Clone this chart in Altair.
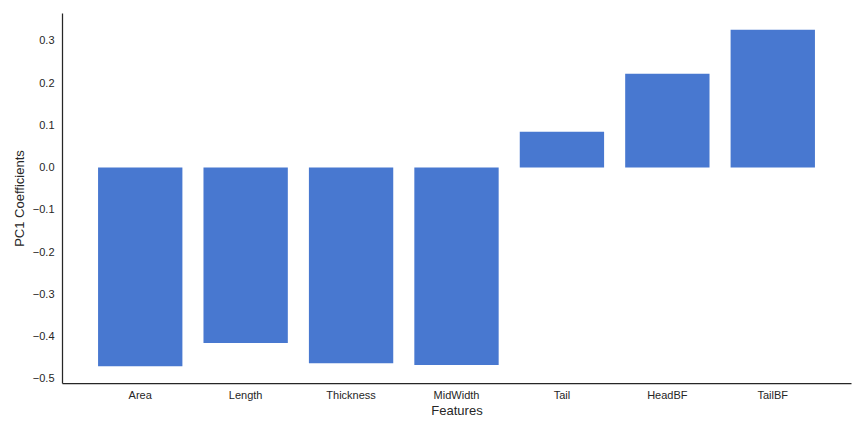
import altair as alt
import pandas as pd

features = ["Area", "Length", "Thickness", "MidWidth", "Tail", "HeadBF", "TailBF"]
coefficients = [-0.470, -0.415, -0.463, -0.467, 0.085, 0.222, 0.326]
y_ticks = [-0.5, -0.4, -0.3, -0.2, -0.1, 0.0, 0.1, 0.2, 0.3]

df = pd.DataFrame({"Features": features, "PC1": coefficients})

font = "Liberation Sans"
dark = "#262626"

chart = (
    alt.Chart(df)
    .mark_bar(color="#4878d0")
    .encode(
        x=alt.X(
            "Features:N",
            sort=features,
            scale=alt.Scale(paddingInner=0.2, paddingOuter=0.342),
            axis=alt.Axis(
                title="Features",
                labelAngle=0,
                ticks=False,
                labelPadding=6,
                titlePadding=4,
            ),
        ),
        y=alt.Y(
            "PC1:Q",
            scale=alt.Scale(domain=[-0.5098, 0.3658], nice=False, zero=False),
            axis=alt.Axis(
                title="PC1 Coefficients",
                values=y_ticks,
                format=".1f",
                ticks=False,
                labelPadding=8,
                titlePadding=6,
            ),
        ),
    )
    .properties(
        width=789,
        height=370,
        autosize=alt.AutoSizeParams(type="none"),
        padding={"left": 54, "top": 5, "right": 5, "bottom": 45},
    )
    .configure_view(stroke=None)
    .configure_axis(
        grid=False,
        domainColor=dark,
        domainWidth=1.25,
        labelColor=dark,
        titleColor=dark,
        labelFont=font,
        titleFont=font,
        labelFontSize=11,
        titleFontSize=13,
        titleFontWeight="normal",
    )
)

chart.save("out.html", embed_options={"renderer": "svg", "actions": False})
